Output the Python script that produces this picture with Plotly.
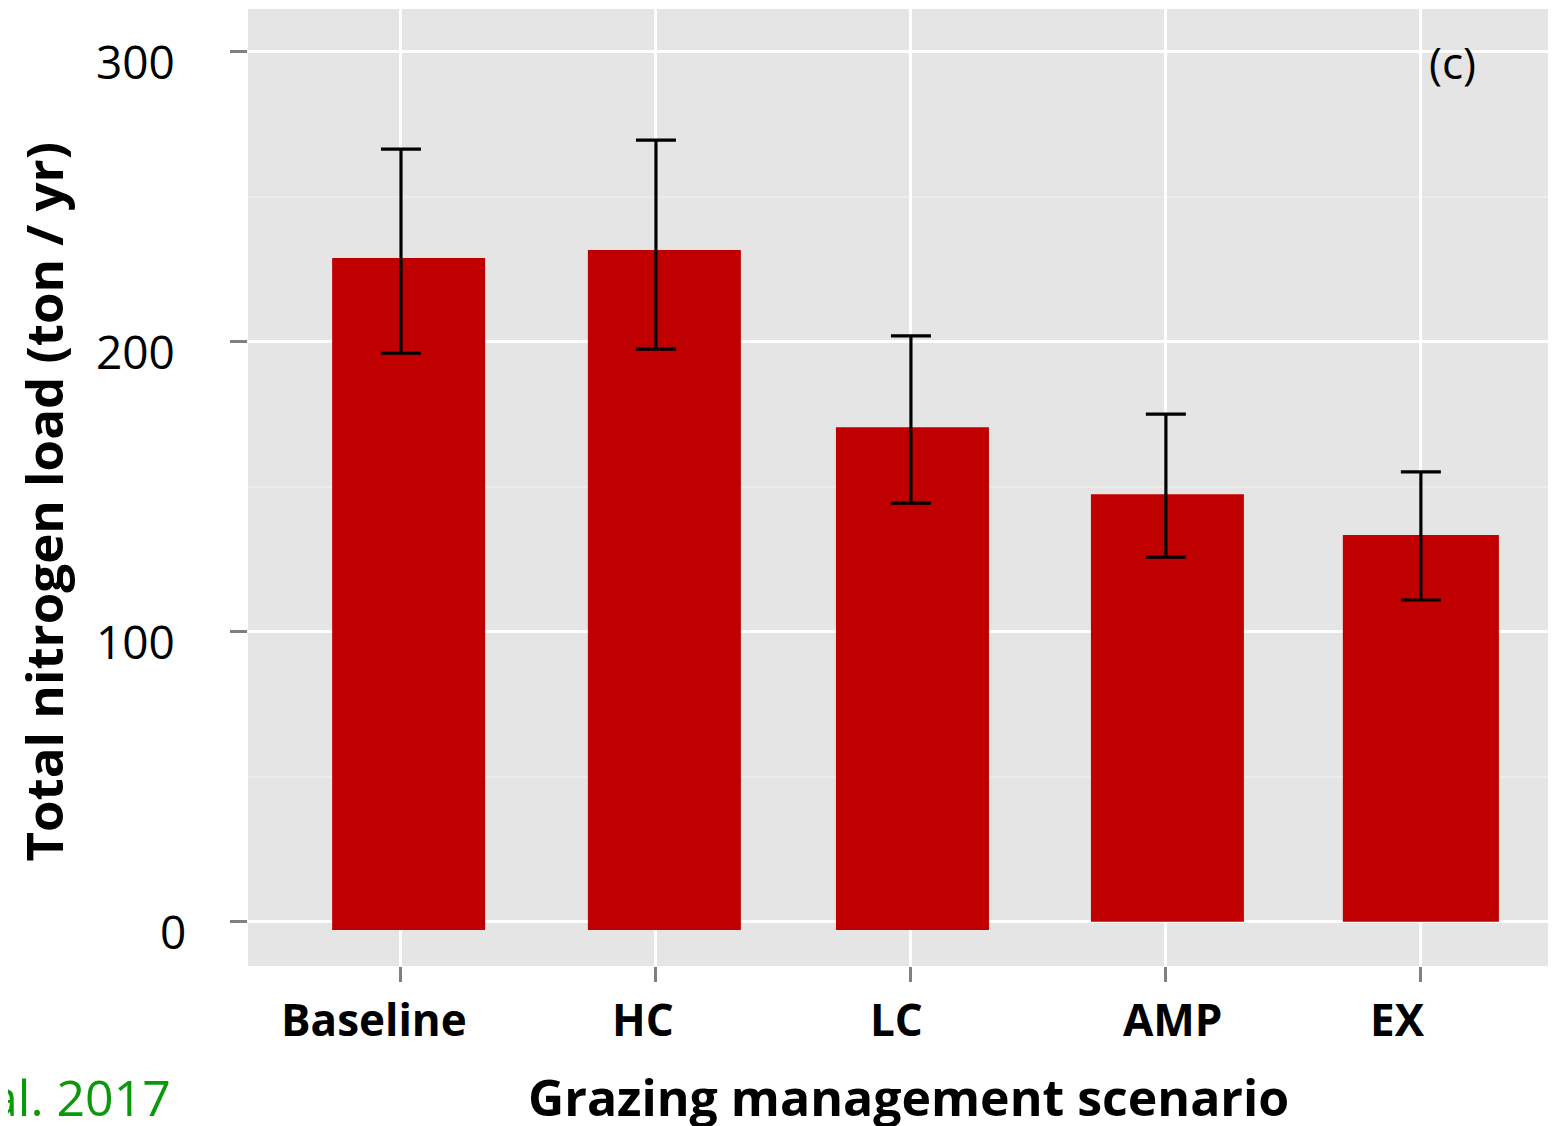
import plotly.graph_objects as go

# ---- data ----
scenarios = ["Baseline", "HC", "LC", "AMP", "EX"]
load_mean = [228.8, 231.6, 170.5, 147.4, 133.3]
bar_bottom = [-2.9, -2.9, -2.9, 0.0, 0.0]
err_upper = [266.4, 269.5, 202.0, 175.0, 155.1]
err_lower = [196.0, 197.4, 144.3, 125.7, 110.9]
y_ticks = [0, 100, 200, 300]

# ---- style ----
FONT = "Open Sans"
bar_offset = [-0.27, -0.267, -0.294, -0.294, -0.306]
bar_width = [0.6, 0.6, 0.6, 0.6, 0.612]
xlabel_shift = [-27, -13, -14, 7, -23]
ylabel_shift = [-60, -71, -71, -71]

W, H = 1548, 1118
L, T = 240, 1
PH = 957
B = H - T - PH
PW = W - L

fig = go.Figure()
fig.add_trace(go.Bar(
    x=scenarios,
    y=[m - b for m, b in zip(load_mean, bar_bottom)],
    base=bar_bottom,
    offset=bar_offset,
    width=bar_width,
    marker=dict(color="#c00000", line=dict(width=0)),
    hoverinfo="skip",
))
fig.add_trace(go.Scatter(
    x=scenarios,
    y=load_mean,
    mode="markers",
    marker=dict(size=0.1, color="rgba(0,0,0,0)"),
    error_y=dict(
        type="data",
        symmetric=False,
        array=[u - m for u, m in zip(err_upper, load_mean)],
        arrayminus=[m - l for m, l in zip(load_mean, err_lower)],
        color="black",
        thickness=3.2,
        width=20,
    ),
    hoverinfo="skip",
))

fig.update_layout(
    width=W, height=H,
    margin=dict(l=L, r=0, t=T, b=B, pad=0),
    paper_bgcolor="white",
    plot_bgcolor="#e5e5e5",
    showlegend=False,
    font=dict(family=FONT, color="black"),
)
fig.update_xaxes(
    type="category",
    range=[-0.6, 4.53],
    showgrid=True, gridcolor="white", gridwidth=3,
    ticks="outside", ticklen=15, tickwidth=3, tickcolor="#808080",
    showticklabels=False,
    showline=False, zeroline=False,
)
fig.update_yaxes(
    range=[-15.3, 314.7],
    tickvals=y_ticks,
    showgrid=True, gridcolor="white", gridwidth=3,
    minor=dict(dtick=50, showgrid=True, gridcolor="#ececec", gridwidth=2, ticks=""),
    ticks="outside", ticklen=17, tickwidth=3, tickcolor="#808080",
    showticklabels=False,
    showline=False, zeroline=False,
)

# x tick labels
for cat, dx in zip(scenarios, xlabel_shift):
    fig.add_annotation(
        x=cat, xref="x", y=-(1011 - (T + PH)) / PH, yref="paper",
        text=cat, showarrow=False, xshift=dx,
        font=dict(family=FONT, size=44, color="black", weight="bold"),
        xanchor="center", yanchor="middle",
    )
# y tick labels
for v, dx in zip(y_ticks, ylabel_shift):
    fig.add_annotation(
        x=0, xref="paper", y=v, yref="y",
        text=str(v), showarrow=False, xshift=dx, yshift=-9,
        font=dict(family=FONT, size=46, color="black"),
        xanchor="right", yanchor="middle",
    )
# axis titles
fig.add_annotation(
    x=(900 - L) / PW, xref="paper", y=-(1089 - (T + PH)) / PH, yref="paper",
    text="Grazing management scenario", showarrow=False,
    font=dict(family=FONT, size=50, color="black", weight="bold"),
    xanchor="center", yanchor="middle",
)
fig.add_annotation(
    x=0, xref="paper", xshift=-(L - 34), y=1 - (493.5 - T) / PH, yref="paper",
    text="Total nitrogen load (ton / yr)", showarrow=False, textangle=-90,
    font=dict(family=FONT, size=51, color="black", weight="bold"),
    xanchor="center", yanchor="middle",
)
fig.add_annotation(
    x=(1444 - L) / PW, y=1 - (54 - T) / PH, xref="paper", yref="paper",
    text="(c)", showarrow=False,
    font=dict(family=FONT, size=44, color="black"),
    xanchor="center", yanchor="middle",
)
fig.add_annotation(
    x=(165 - L) / PW, y=-(1089 - (T + PH)) / PH, xref="paper", yref="paper",
    text="al. 2017", showarrow=False,
    font=dict(family=FONT, size=50, color="#0b990b"),
    xanchor="right", yanchor="middle",
)

fig.write_html("out.html")
